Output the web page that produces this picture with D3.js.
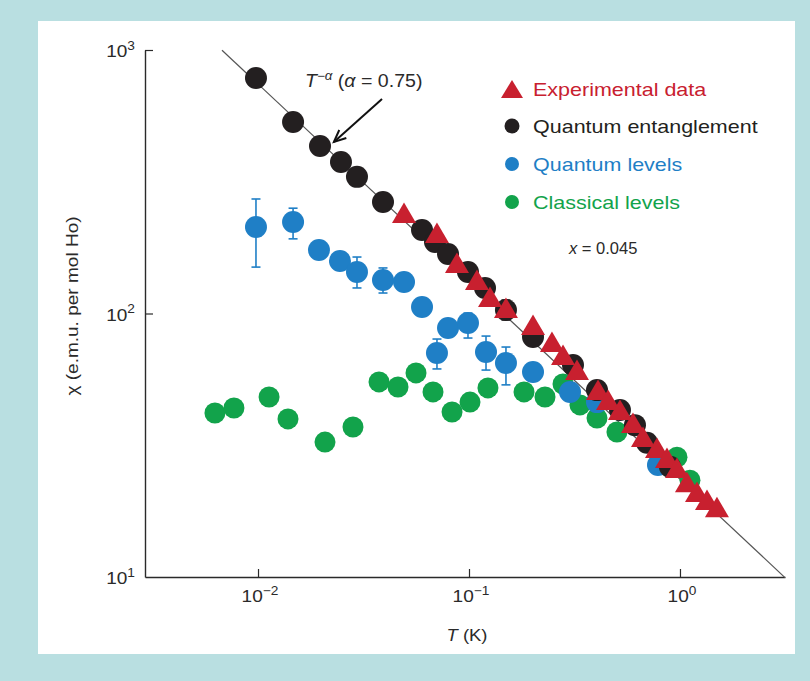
<!DOCTYPE html>
<html><head><meta charset="utf-8">
<script src="https://cdn.jsdelivr.net/npm/d3@7"></script>
<style>body{margin:0;background:#b9dfe1;} svg{display:block}</style>
</head><body>
<svg id="c" width="810" height="681"></svg>
<script>
// ---------- DATA ----------
const expT   = [0.0492,0.0705,0.0877,0.1091,0.1258,0.1497,0.2011,0.2473,0.2790,0.3249,0.4088,0.4559,0.5195,0.5988,0.6678,0.7780,0.8678,0.9678,1.079,1.204,1.343,1.497];
const expChi = [240.6,202.1,155.5,134.0,115.5,104.9,90.4,78.0,69.6,61.0,51.2,47.0,43.0,38.4,34.0,30.9,28.3,25.9,22.9,21.0,19.6,18.4];

const entT   = [0.00978,0.01466,0.01967,0.02473,0.02945,0.03912,0.05989,0.06901,0.07954,0.0989,0.1191,0.1497,0.2011,0.3111,0.4043,0.5195,0.6118,0.6976,0.8966];
const entChi = [783,533,432,376,330,265,207.5,186.7,168.2,143.7,125.0,103.1,81.4,63.8,51.2,43.0,37.7,32.3,26.2];
const entErrLo = [null,null,null,null,null,null,null,null,null,null,null,94.5,null,null,null,null,null,null,null];
const entErrHi = [null,null,null,null,null,null,null,null,null,null,null,112.5,null,null,null,null,null,null,null];

const qlT   = [0.00978,0.01466,0.01945,0.02446,0.02945,0.03912,0.0492,0.05989,0.07954,0.0989,0.0705,0.1204,0.1497,0.2011,0.3011,0.4043,0.7865];
const qlChi = [213,222.5,174.2,158.2,143.7,134.0,131.7,105.8,88.1,92.0,70.8,71.4,64.9,60.0,50.4,46.1,26.6];
const qlErrLo = [150,192,null,null,125,119.6,null,null,null,80.7,61.6,61.0,53.6,null,null,null,null];
const qlErrHi = [272,251,null,null,163.8,148.9,null,null,null,100.4,80.0,82.1,74.6,null,null,null,null];

const clT   = [0.00625,0.00769,0.01128,0.01387,0.02077,0.02819,0.03746,0.04608,0.05609,0.06752,0.0831,0.1011,0.1230,0.1823,0.2292,0.2790,0.3357,0.4043,0.5027,0.9678,1.115];
const clChi = [41.9,43.8,48.2,39.8,32.5,37.1,55.0,52.6,59.5,50.4,42.3,46.1,52.2,50.4,48.2,54.0,45.0,40.1,35.5,28.5,23.3];

const xTicks = [0.01, 0.1, 1];
const xTickExp = ["\u22122", "\u22121", "0"];
const yTicks = [10, 100, 1000];
const yTickExp = ["1", "2", "3"];

const legendLabels = ["Experimental data", "Quantum entanglement", "Quantum levels", "Classical levels"];
const fitAlpha = 0.75, fitAmp = 23.5;
const fitT = [0.00675, 3.146];

// ---------- STYLE ----------
const RED = "#c8202f", BLACK = "#231f20", BLUE = "#1f7fc6", GREEN = "#12a34b";
const AX = "#2a2a2a";
const SX = 1.12;
const FONT = "'Liberation Sans', Arial, Helvetica, sans-serif";

const svg = d3.select("#c");
svg.append("rect").attr("x",38).attr("y",21).attr("width",757).attr("height",633).attr("fill","#fff");

const x = d3.scaleLog().domain([0.002913, 3.146]).range([145, 785]);
const y = d3.scaleLog().domain([10, 1000]).range([577, 50]);

function stext(px, py, size, anchor, fill, parts, rotate, supRatio, sx) {
  const sr = supRatio || 0.68;
  const stretch = sx || SX;
  const t = svg.append("text")
    .attr("transform", `translate(${px},${py})` + (rotate ? ` rotate(${rotate})` : "") + ` scale(${stretch},1)`)
    .attr("text-anchor", anchor).attr("font-family", FONT).attr("font-size", size).attr("fill", fill);
  let shift = 0;
  parts.forEach(p => {
    const s = t.append("tspan").text(p.t);
    if (p.italic) s.attr("font-style", "italic");
    if (p.sup) {
      s.attr("font-size", size * sr).attr("dy", -size * 0.42 - shift);
      shift = -size * 0.42;
    } else {
      if (shift !== 0) { s.attr("dy", -shift); shift = 0; }
    }
  });
  return t;
}

// ---------- AXES ----------
const gx = svg.append("g").attr("transform", "translate(0,577)")
  .call(d3.axisBottom(x).tickValues(xTicks).tickSizeInner(-8).tickSizeOuter(0).tickFormat(""));
const gy = svg.append("g").attr("transform", "translate(145,0)")
  .call(d3.axisLeft(y).tickValues(yTicks.slice(1)).tickSizeInner(-8).tickSizeOuter(0).tickFormat(""));
[gx, gy].forEach(g => {
  g.select(".domain").attr("stroke", AX).attr("stroke-width", 1.4);
  g.selectAll(".tick line").attr("stroke", AX).attr("stroke-width", 1.2);
});

xTicks.forEach((v, i) => {
  stext(x(v) + 2, 602, 17, "middle", AX, [{t: "10"}, {t: xTickExp[i], sup: true}], null, 0.72);
});
yTicks.forEach((v, i) => {
  stext(135, y(v) + 7, 17, "end", AX, [{t: "10"}, {t: yTickExp[i], sup: true}], null, 0.72);
});

stext(467, 641, 16.5, "middle", AX, [{t: "T", italic: true}, {t: " (K)"}]);
stext(78, 306, 17, "middle", AX, [{t: "\u03c7 (e.m.u. per mol Ho)"}], -90);

// ---------- FIT LINE ----------
const fitLine = d3.line().x(d => x(d)).y(d => y(fitAmp * Math.pow(d, -fitAlpha)));
svg.append("path").attr("d", fitLine(fitT)).attr("fill", "none").attr("stroke", "#555").attr("stroke-width", 1.2);

// annotation
stext(305, 87, 17.5, "start", AX, [{t: "T", italic: true}, {t: "\u2212\u03b1", sup: true, italic: true}, {t: " ("}, {t: "\u03b1", italic: true}, {t: " = 0.75)"}]);
const ax1 = x(0.0387), ay1 = y(652), ax2 = x(0.0229), ay2 = y(448);
svg.append("line").attr("x1", ax1).attr("y1", ay1).attr("x2", ax2).attr("y2", ay2).attr("stroke", "#111").attr("stroke-width", 2);
{
  const ang = Math.atan2(ay2 - ay1, ax2 - ax1), L = 13, w = 0.42;
  const p1 = [ax2 - L * Math.cos(ang - w), ay2 - L * Math.sin(ang - w)];
  const p2 = [ax2 - L * Math.cos(ang + w), ay2 - L * Math.sin(ang + w)];
  svg.append("path").attr("d", `M${p1[0]},${p1[1]}L${ax2},${ay2}L${p2[0]},${p2[1]}`)
    .attr("fill", "none").attr("stroke", "#111").attr("stroke-width", 2);
}

// ---------- DATA MARKS ----------
svg.append("g").selectAll("circle").data(clT.map((t, i) => [t, clChi[i]])).join("circle")
  .attr("cx", d => x(d[0])).attr("cy", d => y(d[1])).attr("r", 10.5).attr("fill", GREEN);

function errBars(T, lo, hi, color) {
  const g = svg.append("g").attr("stroke", color).attr("stroke-width", 1.6);
  T.forEach((t, i) => {
    if (lo[i] == null) return;
    const cx = x(t);
    g.append("line").attr("x1", cx).attr("x2", cx).attr("y1", y(lo[i])).attr("y2", y(hi[i]));
    g.append("line").attr("x1", cx - 4.5).attr("x2", cx + 4.5).attr("y1", y(lo[i])).attr("y2", y(lo[i]));
    g.append("line").attr("x1", cx - 4.5).attr("x2", cx + 4.5).attr("y1", y(hi[i])).attr("y2", y(hi[i]));
  });
}
errBars(qlT, qlErrLo, qlErrHi, BLUE);
svg.append("g").selectAll("circle").data(qlT.map((t, i) => [t, qlChi[i]])).join("circle")
  .attr("cx", d => x(d[0])).attr("cy", d => y(d[1])).attr("r", 11).attr("fill", BLUE);

errBars(entT, entErrLo, entErrHi, BLACK);
svg.append("g").selectAll("circle").data(entT.map((t, i) => [t, entChi[i]])).join("circle")
  .attr("cx", d => x(d[0])).attr("cy", d => y(d[1])).attr("r", 11).attr("fill", BLACK);

const tri = "M0,-10.5L-12,10L12,10Z";
svg.append("g").selectAll("path").data(expT.map((t, i) => [t, expChi[i]])).join("path")
  .attr("d", tri).attr("transform", d => `translate(${x(d[0])},${y(d[1])})`).attr("fill", RED);

// ---------- LEGEND ----------
const legColors = [RED, BLACK, BLUE, GREEN];
const legY = [89, 126, 164, 202];
legendLabels.forEach((lab, i) => {
  if (i === 0) {
    svg.append("path").attr("d", "M0,-9L-11,9L11,9Z").attr("transform", `translate(512,${legY[i]})`).attr("fill", RED);
  } else {
    svg.append("circle").attr("cx", 512).attr("cy", legY[i]).attr("r", i === 1 ? 7.5 : 7).attr("fill", legColors[i]);
  }
  stext(533, legY[i] + 7, 19.2, "start", legColors[i], [{t: lab}]);
});
stext(569, 254, 16.5, "start", AX, [{t: "x", italic: true}, {t: " = 0.045"}], null, null, 1.0);
</script>
</body></html>
